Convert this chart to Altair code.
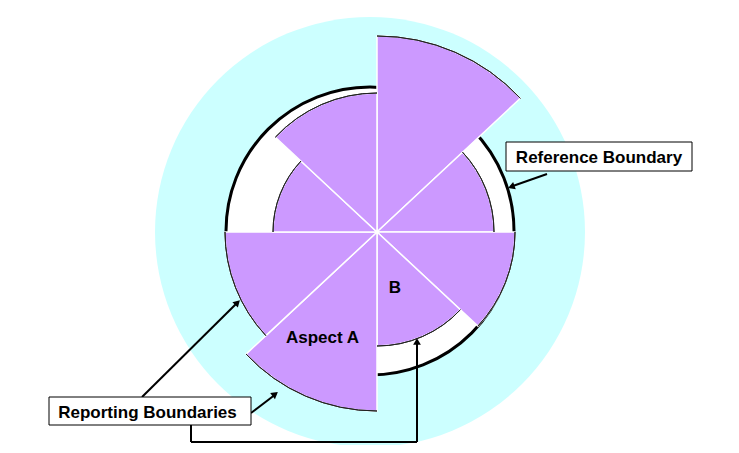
import math
import altair as alt
import pandas as pd

# ---- data ----
segments = ["S1", "S2", "S3", "B", "Aspect A", "S6", "S7", "S8"]
start_deg = [0, 47, 90, 133, 180, 227, 270, 313]
end_deg = [47, 90, 133, 180, 227, 270, 313, 360]
extent = [196, 117, 138, 114, 179, 152, 104, 139]

outer_zone = [215]
reference_boundary = [144]

wedge_df = pd.DataFrame({"segment": segments, "start": start_deg, "end": end_deg, "r": extent})
outer_df = pd.DataFrame({"r": outer_zone})
ref_df = pd.DataFrame({"r": reference_boundary})

theta_scale = alt.Scale(domain=[0, 360], range=[0, math.tau])
r_scale = alt.Scale(type="linear", domain=[0, 250], range=[0, 250], zero=True)

CX, CY = 369, 224          # wedge centre (plot coords)
BX, BY = 362, 223          # boundary circles centre

PURPLE = "#CC99FF"
CYAN = "#CCFFFF"
FONT = "Liberation Sans"

outer = alt.Chart(outer_df).mark_arc(fill=CYAN, strokeWidth=0).encode(
    theta=alt.value(0), theta2=alt.value(math.tau),
    radius=alt.Radius("r:Q", scale=r_scale),
    x=alt.value(BX), y=alt.value(BY + 1),
)

ref = alt.Chart(ref_df).mark_arc(fill="white", stroke="black", strokeWidth=3).encode(
    theta=alt.value(0), theta2=alt.value(math.tau),
    radius=alt.Radius("r:Q", scale=r_scale),
    x=alt.value(BX), y=alt.value(BY),
)

wedges = alt.Chart(wedge_df).mark_arc(fill=PURPLE, stroke="white", strokeWidth=1.5).encode(
    theta=alt.Theta("start:Q", scale=theta_scale, stack=False),
    theta2="end:Q",
    radius=alt.Radius("r:Q", scale=r_scale),
    x=alt.value(CX), y=alt.value(CY),
)

rims = alt.Chart(wedge_df).mark_arc(filled=False, stroke="#222222", strokeWidth=1).encode(
    theta=alt.Theta("start:Q", scale=theta_scale, stack=False),
    theta2="end:Q",
    radius=alt.Radius("r:Q", scale=r_scale),
    radius2="r:Q",
    x=alt.value(CX), y=alt.value(CY),
)

def label(text, x, y):
    return alt.Chart(pd.DataFrame({"t": [text]})).mark_text(
        font=FONT, fontSize=17, fontWeight="bold", color="black",
        align="center", baseline="alphabetic"
    ).encode(text="t:N", x=alt.value(x), y=alt.value(y))

def box(x1, x2, y1, y2):
    return alt.Chart(pd.DataFrame({"k": [0]})).mark_rect(
        fill="white", stroke="black", strokeWidth=1
    ).encode(x=alt.value(x1), x2=alt.value(x2), y=alt.value(y1), y2=alt.value(y2))

def seg(x1, y1, x2, y2):
    return alt.Chart(pd.DataFrame({"k": [0]})).mark_rule(
        color="black", strokeWidth=2
    ).encode(x=alt.value(x1), x2=alt.value(x2), y=alt.value(y1), y2=alt.value(y2))

def head(x, y, ang):
    return alt.Chart(pd.DataFrame({"k": [0]})).mark_point(
        shape="triangle-up", filled=True, color="black", size=60, angle=ang, opacity=1
    ).encode(x=alt.value(x), y=alt.value(y))

layers = [
    outer, ref, wedges, rims,
    label("B", 387, 285),
    label("Aspect A", 314.5, 335),
    # Reference Boundary callout
    seg(539, 166, 502, 179),
    head(503.3, 178.8, 250),
    box(498, 684, 134, 163),
    label("Reference Boundary", 591, 155),
    # Reporting Boundaries callout
    seg(134, 389, 230, 294),
    head(229.5, 294.5, 45),
    seg(243, 405, 268, 386),
    head(267.2, 386.1, 52),
    seg(183, 417, 183, 434),
    seg(183, 434, 409, 434),
    seg(409, 434, 409, 333),
    head(409, 333.5, 0),
    box(41, 243, 389, 417),
    label("Reporting Boundaries", 139.5, 410),
]

chart = alt.layer(*layers).properties(
    width=723, height=437, autosize="none", padding=0
).configure_view(strokeWidth=0)

chart.save("out.html", embed_options={"renderer": "svg", "actions": False})
